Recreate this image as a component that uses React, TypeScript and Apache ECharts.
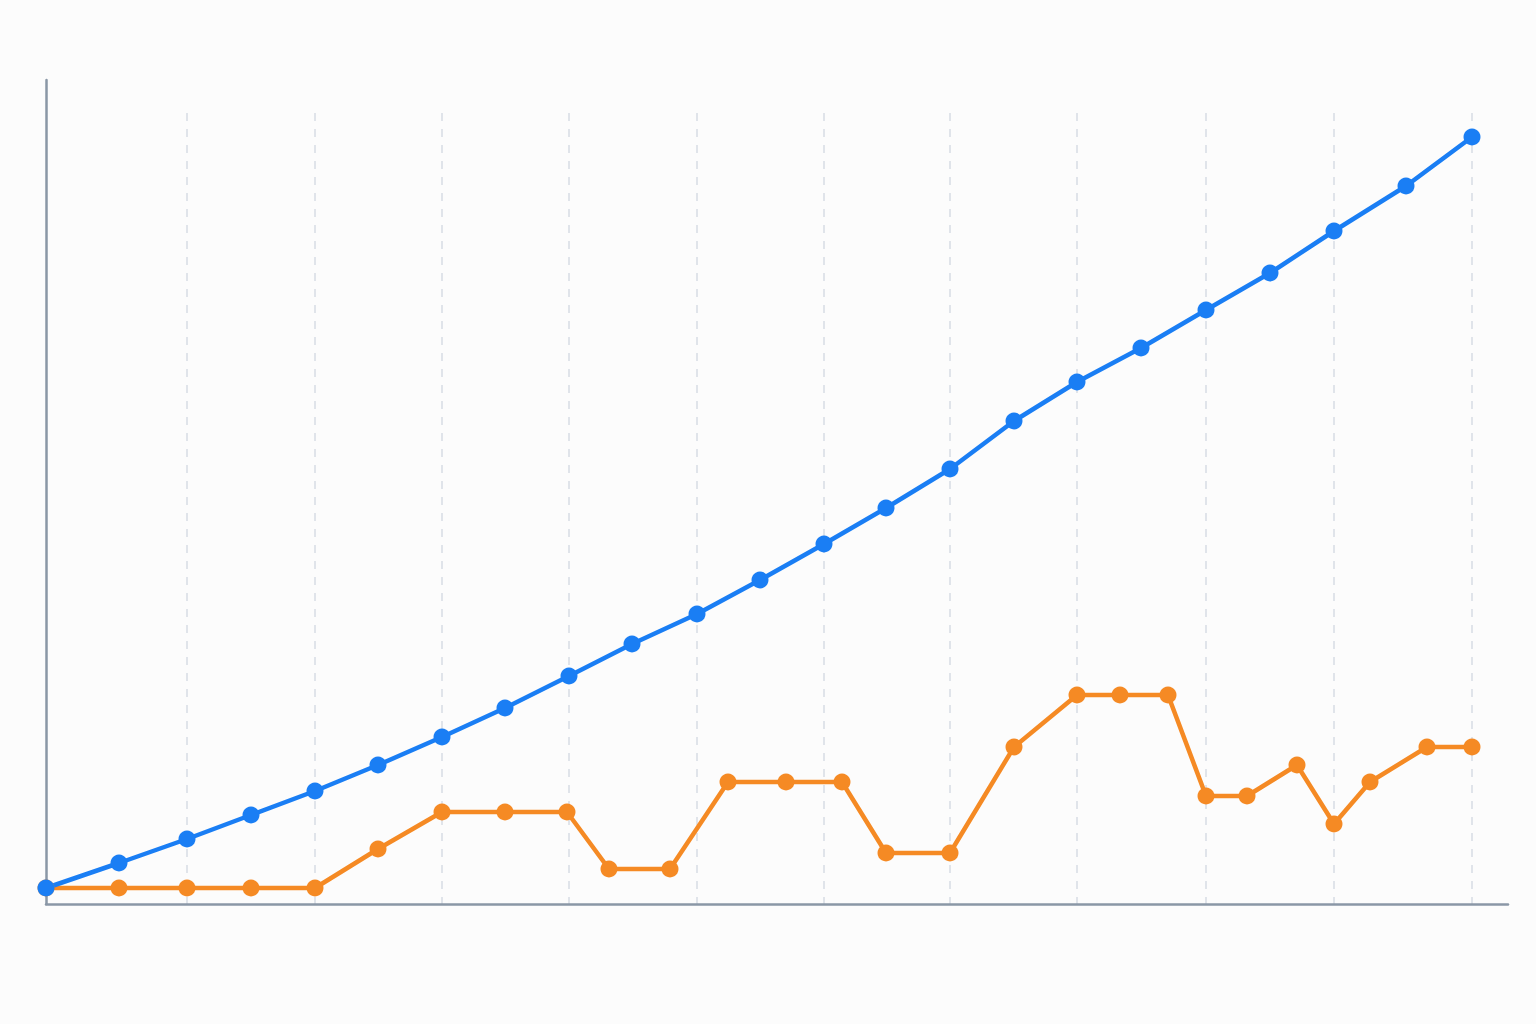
import { useEffect, useRef } from "react";
import * as echarts from "echarts";

const BLUE = "#1a7ef4";
const ORANGE = "#f58a24";
const AXIS = "#8a97a6";
const GRID = "#d6dce3";

const X_MAX = 1462;
const Y_MAX = 824;
const GRID_TOP = 791;
const gridX = [141, 269, 396, 523, 651, 778, 904, 1031, 1160, 1288, 1426];

const blueX = [0, 73, 141, 205, 269, 332, 396, 459, 523, 586, 651, 714, 778, 840, 904, 968, 1031, 1095, 1160, 1224, 1288, 1360, 1426];
const blueY = [16, 41, 65, 89, 113, 139, 167, 196, 228, 260, 290, 324, 360, 396, 435, 483, 522, 556, 594, 631, 673, 718, 767];

const orangeX = [0, 73, 141, 205, 269, 332, 396, 459, 521, 563, 624, 682, 740, 796, 840, 904, 968, 1031, 1074, 1122, 1160, 1201, 1251, 1288, 1324, 1381, 1426];
const orangeY = [16, 16, 16, 16, 16, 55, 92, 92, 92, 35, 35, 122, 122, 122, 51, 51, 157, 209, 209, 209, 108, 108, 139, 80, 122, 157, 157];

const pairs = (xs: number[], ys: number[]) => xs.map((x, i) => [x, ys[i]]);

export default function App() {
    const ref = useRef<HTMLDivElement>(null);

    useEffect(() => {
        if (!ref.current) return;
        const chart = echarts.init(ref.current, null, { renderer: "svg" });
        const gridBox = { left: 46, right: 28, bottom: 120 };

        chart.setOption({
            backgroundColor: "#fcfcfc",
            animation: false,
            grid: [
                { ...gridBox, top: 80 },
                // dashed guides start lower than the y axis line
                { ...gridBox, top: 80 + Y_MAX - GRID_TOP },
            ],
            xAxis: [
                {
                    type: "value",
                    gridIndex: 0,
                    min: 0,
                    max: X_MAX,
                    axisLine: { show: true, lineStyle: { color: AXIS, width: 2.5 } },
                    axisTick: { show: false },
                    axisLabel: { show: false },
                    splitLine: { show: false },
                },
                {
                    type: "value",
                    gridIndex: 1,
                    min: 0,
                    max: X_MAX,
                    axisLine: { show: false },
                    axisTick: { show: false, customValues: gridX },
                    axisLabel: { show: false },
                    splitLine: {
                        show: true,
                        lineStyle: { color: GRID, width: 1.5, type: [8, 8] },
                    },
                },
            ],
            yAxis: [
                {
                    type: "value",
                    gridIndex: 0,
                    min: 0,
                    max: Y_MAX,
                    axisLine: { show: true, lineStyle: { color: AXIS, width: 2.5 } },
                    axisTick: { show: false },
                    axisLabel: { show: false },
                    splitLine: { show: false },
                },
                {
                    type: "value",
                    gridIndex: 1,
                    min: 0,
                    max: GRID_TOP,
                    show: false,
                    splitLine: { show: false },
                },
            ],
            series: [
                {
                    type: "line",
                    xAxisIndex: 0,
                    yAxisIndex: 0,
                    data: pairs(orangeX, orangeY),
                    symbol: "circle",
                    symbolSize: 17,
                    lineStyle: { color: ORANGE, width: 4.5 },
                    itemStyle: { color: ORANGE },
                },
                {
                    type: "line",
                    xAxisIndex: 0,
                    yAxisIndex: 0,
                    data: pairs(blueX, blueY),
                    symbol: "circle",
                    symbolSize: 17,
                    lineStyle: { color: BLUE, width: 4.5 },
                    itemStyle: { color: BLUE },
                },
            ],
        });

        return () => chart.dispose();
    }, []);

    return (
        <div
            ref={ref}
            style={{ position: "absolute", left: 0, top: 0, width: 1536, height: 1024 }}
        />
    );
}
